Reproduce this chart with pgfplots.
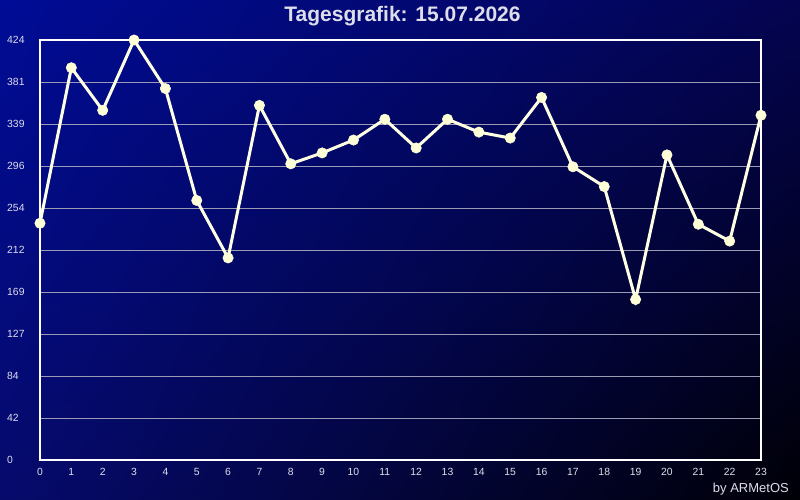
\documentclass[border=0pt]{standalone}
\usepackage{pgfplots}
\pgfplotsset{compat=1.18}
\usetikzlibrary{shadings}
\usepackage{fontspec}
\setmainfont{Liberation Sans}
\definecolor{bgul}{RGB}{0,12,150}
\definecolor{bgur}{RGB}{4,4,80}
\definecolor{bgll}{RGB}{6,10,108}
\definecolor{bglr}{RGB}{0,0,6}
\definecolor{linec}{RGB}{255,255,228}
\definecolor{markc}{RGB}{255,255,215}
\definecolor{gridc}{RGB}{155,155,180}
\definecolor{labc}{RGB}{222,222,235}
\begin{document}
\begin{tikzpicture}[x=1pt,y=1pt]
\useasboundingbox (0,0) rectangle (800,500);
\shade[upper left=bgul, upper right=bgur, lower left=bgll, lower right=bglr] (0,0) rectangle (800,500);
\begin{axis}[
  at={(40pt,40pt)}, anchor=south west,
  scale only axis, width=721pt, height=420pt,
  xmin=0, xmax=23, ymin=0, ymax=424,
  clip=false,
  axis line style={white, line width=1.6pt},
  xtick={0,1,...,23},
  ytick={0,42.4,84.8,127.2,169.6,212,254.4,296.8,339.2,381.6,424},
  yticklabels={0,42,84,127,169,212,254,296,339,381,424},
  major tick length=0pt,
  ymajorgrids, grid style={gridc, line width=0.9pt},
  /pgf/number format/assume math mode=true,
  ticklabel style={font=\fontsize{10.4}{12}\selectfont, text=labc},
  xticklabel style={anchor=center, yshift=-12pt},
  yticklabel style={anchor=west, inner sep=0pt, xshift=-33pt},
]
\addplot[linec, line width=3pt, mark=*, mark size=5.2pt, mark options={fill=markc, draw=markc, line width=0.5pt}] coordinates {
(0,239) (1,396) (2,353) (3,424) (4,375) (5,262) (6,204) (7,358) (8,299) (9,310) (10,323) (11,344) (12,315) (13,344) (14,331) (15,325) (16,366) (17,296) (18,276) (19,162) (20,308) (21,238) (22,221) (23,348)
};
\end{axis}
\node[font=\bfseries\fontsize{21}{24}\selectfont, text=labc] at (402.5,483.5) {Tagesgrafik: 15.07.2026};
\node[anchor=base east, inner sep=0pt, font=\fontsize{13}{15}\selectfont, text=labc] at (789,7) {by ARMetOS};
\end{tikzpicture}
\end{document}
